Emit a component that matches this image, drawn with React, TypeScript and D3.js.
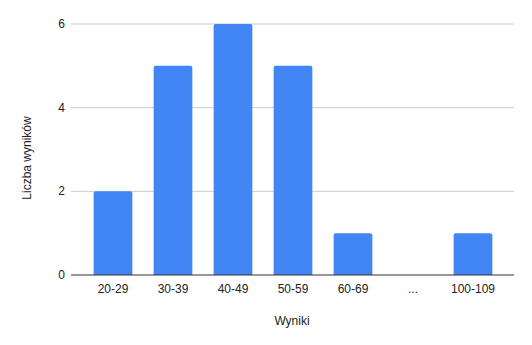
import React from "react";
import * as d3 from "d3";

const categories = ["20-29", "30-39", "40-49", "50-59", "60-69", "...", "100-109"];
const counts = [2, 5, 6, 5, 1, 0, 1];
const yTicks = [0, 2, 4, 6];

const W = 532, H = 345;
const plotLeft = 71, plotRight = 514, plotTop = 24, plotBottom = 275;

export default function App() {
  const x = d3.scaleBand<string>().domain(categories).range([83, 503]).paddingInner(0.355).paddingOuter(0.1775);
  const y = d3.scaleLinear().domain([0, 6]).range([plotBottom, plotTop]);
  const font = "Arial, 'Liberation Sans', sans-serif";
  const r = 2;
  return (
    <svg width={W} height={H} style={{ position: "absolute", left: 0, top: 0, background: "#fff" }} fontFamily={font}>
      {yTicks.map((t) => (
        <g key={t}>
          {t !== 0 && <line x1={plotLeft} x2={plotRight} y1={y(t)} y2={y(t)} stroke="#cccccc" strokeWidth={1} />}
          <text x={65} y={y(t) + 4} textAnchor="end" fontSize={12} fill="#222">{t}</text>
        </g>
      ))}
      {categories.map((c, i) => {
        const v = counts[i];
        if (v <= 0) return null;
        const x0 = x(c)!, bw = x.bandwidth();
        const top = y(v), bot = y(0);
        const p = `M${x0},${bot}V${top + r}Q${x0},${top} ${x0 + r},${top}H${x0 + bw - r}Q${x0 + bw},${top} ${x0 + bw},${top + r}V${bot}Z`;
        return <path key={c} d={p} fill="#4285f4" />;
      })}
      <line x1={plotLeft} x2={plotRight} y1={plotBottom} y2={plotBottom} stroke="#333333" strokeWidth={1} />
      {categories.map((c) => (
        <text key={c} x={x(c)! + x.bandwidth() / 2} y={293} textAnchor="middle" fontSize={12} fill="#222">{c}</text>
      ))}
      <text x={292} y={325} textAnchor="middle" fontSize={12} fill="#222">Wyniki</text>
      <text transform={`translate(31,158) rotate(-90)`} textAnchor="middle" fontSize={12} fill="#222">Liczba wyników</text>
    </svg>
  );
}
